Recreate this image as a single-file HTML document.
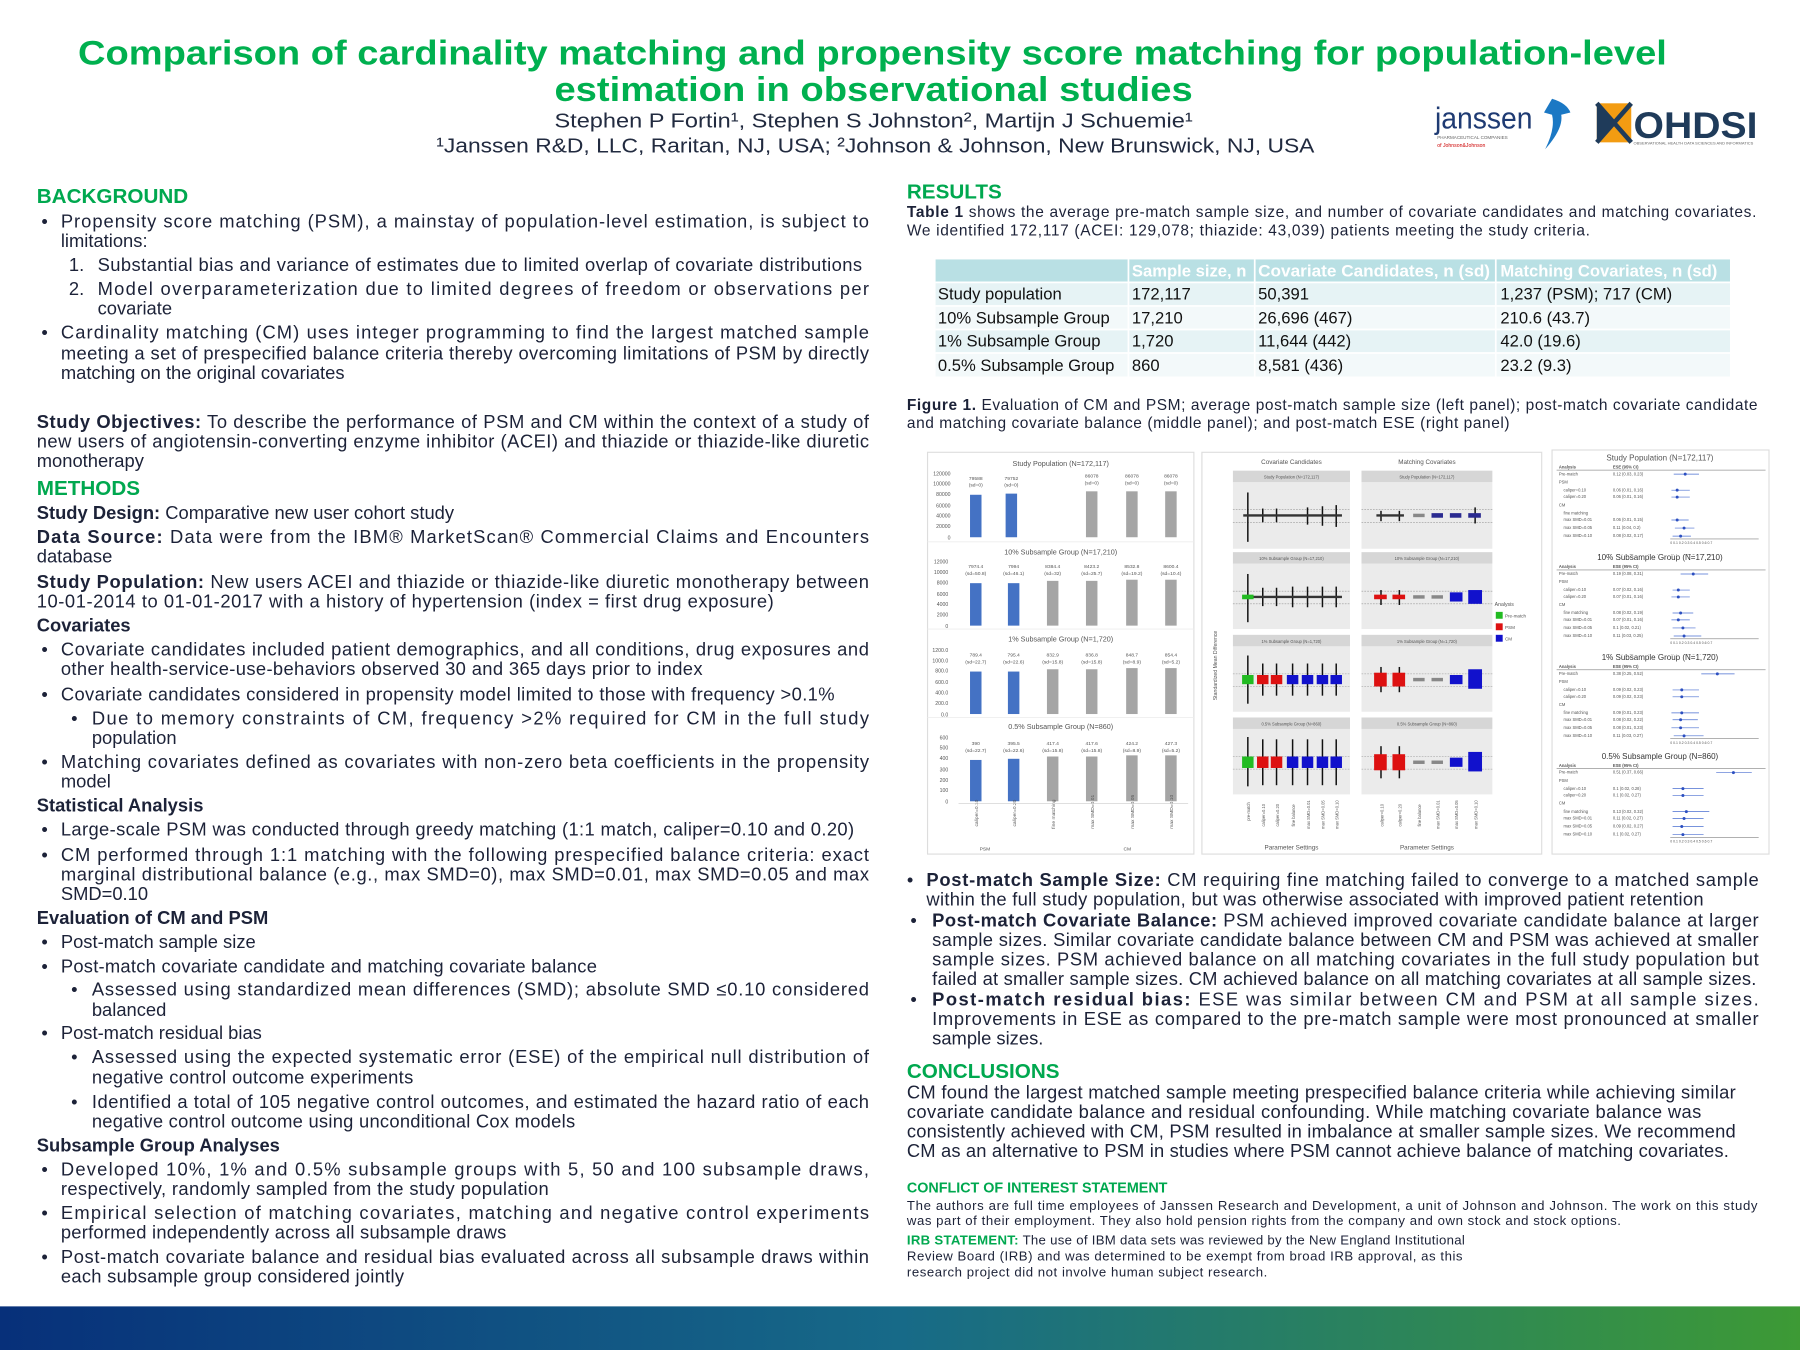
<!DOCTYPE html>
<html><head><meta charset="utf-8"><style>
html,body{margin:0;padding:0;background:#fff;width:1800px;height:1350px;overflow:hidden}
svg{display:block}
.t{font-family:"Liberation Sans",sans-serif;fill:#1c2238;font-size:16px}
.h{font-family:"Liberation Sans",sans-serif;fill:#00a84f;font-weight:bold;font-size:18px}
.s{font-family:"Liberation Sans",sans-serif;fill:#1c2238;font-weight:bold;font-size:16px}
.f{font-family:"Liberation Sans",sans-serif;fill:#555}
.c{font-family:"Liberation Sans",sans-serif;fill:#1c2238;font-size:13.5px}
.k{font-family:"Liberation Sans",sans-serif;fill:#1c2238;font-size:11.5px}
</style></head><body>
<svg width="1800" height="1350" viewBox="0 0 1568 1176" xmlns="http://www.w3.org/2000/svg">
<defs><linearGradient id="g" x1="0" x2="1"><stop offset="0" stop-color="#07307a"/><stop offset="0.5" stop-color="#176a88"/><stop offset="1" stop-color="#3d9a35"/></linearGradient></defs>
<!-- Title -->
<text x="68" y="56" textLength="1384" lengthAdjust="spacingAndGlyphs" font-family="Liberation Sans,sans-serif" font-weight="bold" font-size="30" fill="#00b04f">Comparison of cardinality matching and propensity score matching for population-level</text>
<text x="483" y="88" textLength="556" lengthAdjust="spacingAndGlyphs" font-family="Liberation Sans,sans-serif" font-weight="bold" font-size="30" fill="#00b04f">estimation in observational studies</text>
<text x="483" y="111" textLength="556" lengthAdjust="spacingAndGlyphs" font-family="Liberation Sans,sans-serif" font-size="18" fill="#222b40">Stephen P Fortin¹, Stephen S Johnston², Martijn J Schuemie¹</text>
<text x="380" y="133" textLength="765" lengthAdjust="spacingAndGlyphs" font-family="Liberation Sans,sans-serif" font-size="18" fill="#222b40">¹Janssen R&amp;D, LLC, Raritan, NJ, USA; ²Johnson &amp; Johnson, New Brunswick, NJ, USA</text>
<!-- logos -->
<text x="1250" y="112" font-family="Liberation Sans,sans-serif" font-size="27" fill="#1f3b73" textLength="85" lengthAdjust="spacingAndGlyphs">janssen</text>
<path d="M1352 86 Q1365 90 1368 98 L1360 100 Q1362 112 1346 130 Q1355 112 1352 100 L1345 98 Z" fill="#1b78c4"/>
<text x="1252" y="121" font-family="Liberation Sans,sans-serif" font-size="4" fill="#666">PHARMACEUTICAL COMPANIES</text>
<text x="1252" y="128" font-family="Liberation Sans,sans-serif" font-size="4.5" fill="#c00">of Johnson&amp;Johnson</text>
<rect x="1391" y="90" width="30" height="34" fill="#f39c12"/>
<path d="M1391 90 L1421 124 M1421 90 L1391 124" stroke="#1f3b5a" stroke-width="4"/>
<path d="M1391 90 L1406 107 L1391 124Z" fill="#1f3b5a"/>
<text x="1423" y="120" font-family="Liberation Sans,sans-serif" font-weight="bold" font-size="32" fill="#1f3b5a" textLength="108" lengthAdjust="spacingAndGlyphs">OHDSI</text>
<text x="1423" y="126" font-family="Liberation Sans,sans-serif" font-size="3.5" fill="#666">OBSERVATIONAL HEALTH DATA SCIENCES AND INFORMATICS</text>

<!-- LEFT COLUMN -->
<g>
<text class="h" x="32" y="177">BACKGROUND</text>
<text class="t" x="36" y="198">•</text>
<text class="t" x="53" y="198" textLength="704" lengthAdjust="spacing">Propensity score matching (PSM), a mainstay of population-level estimation, is subject to</text>
<text class="t" x="53" y="215">limitations:</text>
<text class="t" x="60" y="236">1.</text>
<text class="t" x="85" y="236" textLength="666" lengthAdjust="spacing">Substantial bias and variance of estimates  due to limited overlap of covariate distributions</text>
<text class="t" x="60" y="257">2.</text>
<text class="t" x="85" y="257" textLength="672" lengthAdjust="spacing">Model overparameterization due to limited degrees of freedom or observations per</text>
<text class="t" x="85" y="274">covariate</text>
<text class="t" x="36" y="295">•</text>
<text class="t" x="53" y="295" textLength="704" lengthAdjust="spacing">Cardinality matching (CM) uses integer programming to find the largest matched sample</text>
<text class="t" x="53" y="313" textLength="704" lengthAdjust="spacing">meeting a set of prespecified balance criteria thereby overcoming limitations of PSM by directly</text>
<text class="t" x="53" y="330">matching on the original covariates</text>
<text class="t" x="32" y="373" textLength="725" lengthAdjust="spacing"><tspan font-weight="bold">Study Objectives:</tspan> To describe the performance of PSM and CM within the context of a study of</text>
<text class="t" x="32" y="390" textLength="725" lengthAdjust="spacing">new users of angiotensin-converting enzyme inhibitor (ACEI) and thiazide or thiazide-like diuretic</text>
<text class="t" x="32" y="407">monotherapy</text>
<text class="h" x="32" y="431">METHODS</text>
<text class="t" x="32" y="452"><tspan font-weight="bold">Study Design:</tspan> Comparative new user cohort study</text>
<text class="t" x="32" y="473" textLength="725" lengthAdjust="spacing"><tspan font-weight="bold">Data Source:</tspan> Data were from the IBM® MarketScan® Commercial Claims and Encounters</text>
<text class="t" x="32" y="490">database</text>
<text class="t" x="32" y="512" textLength="725" lengthAdjust="spacing"><tspan font-weight="bold">Study Population:</tspan> New users ACEI and thiazide or thiazide-like diuretic monotherapy between</text>
<text class="t" x="32" y="529" textLength="642" lengthAdjust="spacing">10-01-2014 to 01-01-2017 with a history of hypertension (index = first drug exposure)</text>
<text class="s" x="32" y="550">Covariates</text>
<text class="t" x="36" y="571">•</text>
<text class="t" x="53" y="571" textLength="704" lengthAdjust="spacing">Covariate candidates included patient demographics, and all conditions, drug exposures and</text>
<text class="t" x="53" y="588" textLength="559" lengthAdjust="spacing">other health-service-use-behaviors observed 30 and 365 days prior to index</text>
<text class="t" x="36" y="610">•</text>
<text class="t" x="53" y="610" textLength="674" lengthAdjust="spacing">Covariate candidates considered in propensity model limited to those with frequency &gt;0.1%</text>
<text class="t" x="62" y="631">•</text>
<text class="t" x="80" y="631" textLength="677" lengthAdjust="spacing">Due to memory constraints of CM, frequency &gt;2% required for CM in the full study</text>
<text class="t" x="80" y="648">population</text>
<text class="t" x="36" y="669">•</text>
<text class="t" x="53" y="669" textLength="704" lengthAdjust="spacing">Matching covariates defined as covariates with non-zero beta coefficients in the propensity</text>
<text class="t" x="53" y="686">model</text>
<text class="s" x="32" y="707">Statistical Analysis</text>
<text class="t" x="36" y="728">•</text>
<text class="t" x="53" y="728" textLength="691" lengthAdjust="spacing">Large-scale PSM was conducted through greedy matching (1:1 match, caliper=0.10 and 0.20)</text>
<text class="t" x="36" y="750">•</text>
<text class="t" x="53" y="750" textLength="704" lengthAdjust="spacing">CM performed through 1:1 matching with the following prespecified balance criteria: exact</text>
<text class="t" x="53" y="767" textLength="704" lengthAdjust="spacing">marginal distributional balance (e.g., max SMD=0), max SMD=0.01, max SMD=0.05 and max</text>
<text class="t" x="53" y="784">SMD=0.10</text>
<text class="s" x="32" y="805">Evaluation of CM and PSM</text>
<text class="t" x="36" y="826">•</text>
<text class="t" x="53" y="826">Post-match sample size</text>
<text class="t" x="36" y="847">•</text>
<text class="t" x="53" y="847" textLength="467" lengthAdjust="spacing">Post-match covariate candidate and matching covariate balance</text>
<text class="t" x="62" y="867">•</text>
<text class="t" x="80" y="867" textLength="677" lengthAdjust="spacing">Assessed using standardized mean differences (SMD); absolute SMD ≤0.10 considered</text>
<text class="t" x="80" y="885">balanced</text>
<text class="t" x="36" y="905">•</text>
<text class="t" x="53" y="905">Post-match residual bias</text>
<text class="t" x="62" y="926">•</text>
<text class="t" x="80" y="926" textLength="677" lengthAdjust="spacing">Assessed using the expected systematic error (ESE) of the empirical null distribution of</text>
<text class="t" x="80" y="944" textLength="280" lengthAdjust="spacing">negative control outcome experiments</text>
<text class="t" x="62" y="965">•</text>
<text class="t" x="80" y="965" textLength="677" lengthAdjust="spacing">Identified a total of 105 negative control outcomes, and estimated the hazard ratio of each</text>
<text class="t" x="80" y="982" textLength="421" lengthAdjust="spacing">negative control outcome using unconditional Cox models</text>
<text class="s" x="32" y="1003">Subsample Group Analyses</text>
<text class="t" x="36" y="1024">•</text>
<text class="t" x="53" y="1024" textLength="704" lengthAdjust="spacing">Developed 10%, 1% and 0.5% subsample groups with 5, 50 and 100 subsample draws,</text>
<text class="t" x="53" y="1041" textLength="425" lengthAdjust="spacing">respectively, randomly sampled from the study population</text>
<text class="t" x="36" y="1062">•</text>
<text class="t" x="53" y="1062" textLength="704" lengthAdjust="spacing">Empirical selection of matching covariates, matching and negative control experiments</text>
<text class="t" x="53" y="1079" textLength="388" lengthAdjust="spacing">performed independently across all subsample draws</text>
<text class="t" x="36" y="1100">•</text>
<text class="t" x="53" y="1100" textLength="704" lengthAdjust="spacing">Post-match covariate balance and residual bias evaluated across all subsample draws within</text>
<text class="t" x="53" y="1117" textLength="299" lengthAdjust="spacing">each subsample group considered jointly</text>
</g>

<!-- RIGHT COLUMN -->
<g>
<text class="h" x="790" y="173">RESULTS</text>
<text class="c" x="790" y="189" textLength="740" lengthAdjust="spacing"><tspan font-weight="bold">Table 1</tspan> shows the average pre-match sample size, and number of covariate candidates and matching covariates.</text>
<text class="c" x="790" y="205" textLength="595" lengthAdjust="spacing">We identified 172,117 (ACEI: 129,078; thiazide: 43,039) patients meeting the study criteria.</text>
<rect x="815" y="226" width="692" height="20" fill="#b9e0e4"/>
<rect x="815" y="246" width="692" height="20.5" fill="#e6f3f5"/>
<rect x="815" y="266.5" width="692" height="20.5" fill="#f3f9fa"/>
<rect x="815" y="287" width="692" height="20.5" fill="#e6f3f5"/>
<rect x="815" y="307.5" width="692" height="20.5" fill="#f3f9fa"/>
<g stroke="#fff" stroke-width="1.5"><line x1="983" y1="226" x2="983" y2="328"/><line x1="1093" y1="226" x2="1093" y2="328"/><line x1="1303" y1="226" x2="1303" y2="328"/><line x1="815" y1="246" x2="1507" y2="246"/><line x1="815" y1="266.5" x2="1507" y2="266.5"/><line x1="815" y1="287" x2="1507" y2="287"/><line x1="815" y1="307.5" x2="1507" y2="307.5"/></g>
<g font-family="Liberation Sans,sans-serif" font-size="14.5" fill="#fff" font-weight="bold">
<text x="986" y="241">Sample size, n</text><text x="1096" y="241" textLength="202" lengthAdjust="spacingAndGlyphs">Covariate Candidates, n (sd)</text><text x="1307" y="241" textLength="189" lengthAdjust="spacingAndGlyphs">Matching Covariates, n (sd)</text></g>
<g font-family="Liberation Sans,sans-serif" font-size="14.5" fill="#111">
<text x="817" y="261">Study population</text><text x="986" y="261">172,117</text><text x="1096" y="261">50,391</text><text x="1307" y="261">1,237 (PSM); 717 (CM)</text>
<text x="817" y="282">10% Subsample Group</text><text x="986" y="282">17,210</text><text x="1096" y="282">26,696 (467)</text><text x="1307" y="282">210.6 (43.7)</text>
<text x="817" y="302">1% Subsample Group</text><text x="986" y="302">1,720</text><text x="1096" y="302">11,644 (442)</text><text x="1307" y="302">42.0 (19.6)</text>
<text x="817" y="323">0.5% Subsample Group</text><text x="986" y="323">860</text><text x="1096" y="323">8,581 (436)</text><text x="1307" y="323">23.2 (9.3)</text></g>
<text class="c" x="790" y="357" textLength="741" lengthAdjust="spacing"><tspan font-weight="bold">Figure 1.</tspan> Evaluation of CM and PSM; average post-match sample size (left panel); post-match covariate candidate</text>
<text class="c" x="790" y="373" textLength="525" lengthAdjust="spacing">and matching covariate balance (middle panel); and post-match ESE (right panel)</text>

<!-- FIGURE: left panel -->
<rect x="808" y="394" width="232" height="350" fill="#fff" stroke="#ddd"/>
<g class="f" font-size="6.3" text-anchor="middle">
<text x="924" y="406">Study Population (N=172,117)</text>
<text x="924" y="483">10% Subsample Group (N=17,210)</text>
<text x="924" y="559">1% Subsample Group (N=1,720)</text>
<text x="924" y="635">0.5% Subsample Group (N=860)</text>
</g>
<g stroke="#eee" stroke-width="0.8"><line x1="808" y1="472" x2="1040" y2="472"/><line x1="808" y1="548" x2="1040" y2="548"/><line x1="808" y1="625" x2="1040" y2="625"/></g>
<g class="f" font-size="4.5" text-anchor="end">
<text x="828" y="414">120000</text><text x="828" y="423">100000</text><text x="828" y="432">80000</text><text x="828" y="442">60000</text><text x="828" y="451">40000</text><text x="828" y="460">20000</text><text x="828" y="470">0</text>
<text x="826" y="491">12000</text><text x="826" y="500">10000</text><text x="826" y="509">8000</text><text x="826" y="519">6000</text><text x="826" y="528">4000</text><text x="826" y="537">2000</text><text x="826" y="547">0</text>
<text x="826" y="568">1200.0</text><text x="826" y="577">1000.0</text><text x="826" y="586">800.0</text><text x="826" y="596">600.0</text><text x="826" y="605">400.0</text><text x="826" y="614">200.0</text><text x="826" y="624">0.0</text>
<text x="826" y="644">600</text><text x="826" y="653">500</text><text x="826" y="662">400</text><text x="826" y="672">300</text><text x="826" y="681">200</text><text x="826" y="690">100</text><text x="826" y="700">0</text>
</g>
<g fill="#4472c4">
<rect x="845" y="431" width="10" height="37"/><rect x="876" y="430" width="10" height="38"/>
<rect x="845" y="508" width="10" height="37"/><rect x="878" y="508" width="10" height="37"/>
<rect x="845" y="585" width="10" height="37"/><rect x="878" y="585" width="10" height="37"/>
<rect x="845" y="662" width="10" height="36"/><rect x="878" y="661" width="10" height="37"/>
</g>
<g fill="#a5a5a5">
<rect x="946" y="428" width="10" height="40"/><rect x="981" y="428" width="10" height="40"/><rect x="1015" y="428" width="10" height="40"/>
<rect x="912" y="506" width="10" height="39"/><rect x="946" y="506" width="10" height="39"/><rect x="981" y="505" width="10" height="40"/><rect x="1015" y="505" width="10" height="40"/>
<rect x="912" y="583" width="10" height="39"/><rect x="946" y="583" width="10" height="39"/><rect x="981" y="582" width="10" height="40"/><rect x="1015" y="582" width="10" height="40"/>
<rect x="912" y="659" width="10" height="39"/><rect x="946" y="659" width="10" height="39"/><rect x="981" y="658" width="10" height="40"/><rect x="1015" y="658" width="10" height="40"/>
</g>
<g class="f" font-size="4.3" text-anchor="middle">
<text x="850" y="418">79588</text><text x="850" y="424">(sd=0)</text><text x="881" y="418">79752</text><text x="881" y="424">(sd=0)</text>
<text x="951" y="416">86078</text><text x="951" y="422">(sd=0)</text><text x="986" y="416">86078</text><text x="986" y="422">(sd=0)</text><text x="1020" y="416">86078</text><text x="1020" y="422">(sd=0)</text>
<text x="850" y="495">7974.4</text><text x="850" y="501">(sd=50.8)</text><text x="883" y="495">7994</text><text x="883" y="501">(sd=46.1)</text><text x="917" y="495">8384.4</text><text x="917" y="501">(sd=32)</text><text x="951" y="495">8423.2</text><text x="951" y="501">(sd=25.7)</text><text x="986" y="495">8532.8</text><text x="986" y="501">(sd=19.2)</text><text x="1020" y="495">8600.4</text><text x="1020" y="501">(sd=10.4)</text>
<text x="850" y="572">789.4</text><text x="850" y="578">(sd=22.7)</text><text x="883" y="572">795.4</text><text x="883" y="578">(sd=22.6)</text><text x="917" y="572">832.9</text><text x="917" y="578">(sd=15.8)</text><text x="951" y="572">836.8</text><text x="951" y="578">(sd=15.8)</text><text x="986" y="572">848.7</text><text x="986" y="578">(sd=8.9)</text><text x="1020" y="572">854.4</text><text x="1020" y="578">(sd=5.2)</text>
<text x="850" y="649">390</text><text x="850" y="655">(sd=22.7)</text><text x="883" y="649">395.5</text><text x="883" y="655">(sd=22.6)</text><text x="917" y="649">417.4</text><text x="917" y="655">(sd=15.8)</text><text x="951" y="649">417.6</text><text x="951" y="655">(sd=15.8)</text><text x="986" y="649">424.2</text><text x="986" y="655">(sd=8.9)</text><text x="1020" y="649">427.3</text><text x="1020" y="655">(sd=5.2)</text>
<text x="858" y="741">PSM</text><text x="982" y="741">CM</text>
</g>
<g class="f" font-size="4.3">
<text transform="translate(852,720) rotate(-90)">caliper=0.10</text><text transform="translate(885,720) rotate(-90)">caliper=0.20</text><text transform="translate(919,722) rotate(-90)">fine matching</text><text transform="translate(953,722) rotate(-90)">max SMD=0.01</text><text transform="translate(988,722) rotate(-90)">max SMD=0.05</text><text transform="translate(1022,722) rotate(-90)">max SMD=0.10</text>
</g>
<line x1="835" y1="700" x2="1035" y2="700" stroke="#ccc" stroke-width="0.6"/>

<!-- FIGURE: middle panel -->
<rect x="1047" y="394" width="296" height="350" fill="#fff" stroke="#ddd"/>
<g class="f" font-size="5.5" text-anchor="middle" fill="#333"><text x="1125" y="404">Covariate Candidates</text><text x="1243" y="404">Matching Covariates</text>
<text x="1125" y="740">Parameter Settings</text><text x="1243" y="740">Parameter Settings</text></g>
<text class="f" font-size="4.5" transform="translate(1060,610) rotate(-90)">Standardized Mean Difference</text>
<g fill="#ebebeb">
<rect x="1074" y="420" width="102" height="58"/><rect x="1186" y="420" width="114" height="58"/>
<rect x="1074" y="491" width="102" height="57"/><rect x="1186" y="491" width="114" height="57"/>
<rect x="1074" y="563" width="102" height="57"/><rect x="1186" y="563" width="114" height="57"/>
<rect x="1074" y="635" width="102" height="57"/><rect x="1186" y="635" width="114" height="57"/>
</g>
<g fill="#d6d6d6">
<rect x="1074" y="410" width="102" height="10"/><rect x="1186" y="410" width="114" height="10"/>
<rect x="1074" y="481" width="102" height="10"/><rect x="1186" y="481" width="114" height="10"/>
<rect x="1074" y="553" width="102" height="10"/><rect x="1186" y="553" width="114" height="10"/>
<rect x="1074" y="625" width="102" height="10"/><rect x="1186" y="625" width="114" height="10"/>
</g>
<g class="f" font-size="3.6" text-anchor="middle" fill="#444">
<text x="1125" y="417">Study Population (N=172,117)</text><text x="1243" y="417">Study Population (N=172,117)</text>
<text x="1125" y="488">10% Subsample Group (N=17,210)</text><text x="1243" y="488">10% Subsample Group (N=17,210)</text>
<text x="1125" y="560">1% Subsample Group (N=1,720)</text><text x="1243" y="560">1% Subsample Group (N=1,720)</text>
<text x="1125" y="632">0.5% Subsample Group (N=860)</text><text x="1243" y="632">0.5% Subsample Group (N=860)</text>
</g>
<g stroke="#999" stroke-width="0.5" stroke-dasharray="1.5,1">
<line x1="1074" y1="444" x2="1176" y2="444"/><line x1="1074" y1="455" x2="1176" y2="455"/><line x1="1186" y1="444" x2="1300" y2="444"/><line x1="1186" y1="455" x2="1300" y2="455"/>
<line x1="1074" y1="515" x2="1176" y2="515"/><line x1="1074" y1="526" x2="1176" y2="526"/><line x1="1186" y1="515" x2="1300" y2="515"/><line x1="1186" y1="526" x2="1300" y2="526"/>
<line x1="1074" y1="587" x2="1176" y2="587"/><line x1="1074" y1="598" x2="1176" y2="598"/><line x1="1186" y1="587" x2="1300" y2="587"/><line x1="1186" y1="598" x2="1300" y2="598"/>
<line x1="1074" y1="659" x2="1176" y2="659"/><line x1="1074" y1="670" x2="1176" y2="670"/><line x1="1186" y1="659" x2="1300" y2="659"/><line x1="1186" y1="670" x2="1300" y2="670"/>
</g>
<g stroke="#111" stroke-width="1.3">
<line x1="1087" y1="429" x2="1087" y2="472"/><line x1="1100" y1="443" x2="1100" y2="455"/><line x1="1112" y1="443" x2="1112" y2="455"/><line x1="1139" y1="442" x2="1139" y2="457"/><line x1="1152" y1="441" x2="1152" y2="458"/><line x1="1164" y1="440" x2="1164" y2="459"/>
<line x1="1203" y1="445" x2="1203" y2="454"/><line x1="1219" y1="445" x2="1219" y2="454"/><line x1="1285" y1="442" x2="1285" y2="456"/>
<line x1="1087" y1="500" x2="1087" y2="542"/><line x1="1100" y1="512" x2="1100" y2="528"/><line x1="1112" y1="512" x2="1112" y2="528"/><line x1="1126" y1="511" x2="1126" y2="529"/><line x1="1139" y1="511" x2="1139" y2="529"/><line x1="1152" y1="511" x2="1152" y2="529"/><line x1="1164" y1="511" x2="1164" y2="529"/>
<line x1="1203" y1="514" x2="1203" y2="527"/><line x1="1219" y1="514" x2="1219" y2="527"/>
<line x1="1087" y1="571" x2="1087" y2="613"/><line x1="1100" y1="578" x2="1100" y2="606"/><line x1="1112" y1="578" x2="1112" y2="606"/><line x1="1126" y1="578" x2="1126" y2="606"/><line x1="1139" y1="578" x2="1139" y2="606"/><line x1="1152" y1="578" x2="1152" y2="606"/><line x1="1164" y1="578" x2="1164" y2="606"/>
<line x1="1203" y1="581" x2="1203" y2="603"/><line x1="1219" y1="581" x2="1219" y2="603"/>
<line x1="1087" y1="642" x2="1087" y2="685"/><line x1="1100" y1="644" x2="1100" y2="684"/><line x1="1112" y1="644" x2="1112" y2="684"/><line x1="1126" y1="644" x2="1126" y2="684"/><line x1="1139" y1="644" x2="1139" y2="684"/><line x1="1152" y1="644" x2="1152" y2="684"/><line x1="1164" y1="644" x2="1164" y2="684"/>
<line x1="1203" y1="650" x2="1203" y2="678"/><line x1="1219" y1="650" x2="1219" y2="678"/>
</g>
<g stroke="#333" stroke-width="2"><line x1="1083" y1="449" x2="1169" y2="449"/><line x1="1199" y1="449" x2="1223" y2="449"/><line x1="1083" y1="520" x2="1169" y2="520"/></g>
<g fill="#888"><rect x="1231" y="447.5" width="10" height="3"/><rect x="1231" y="518.5" width="10" height="3"/><rect x="1247" y="518.5" width="10" height="3"/><rect x="1231" y="590.5" width="10" height="3"/><rect x="1247" y="590.5" width="10" height="3"/><rect x="1231" y="662.5" width="10" height="3"/><rect x="1247" y="662.5" width="10" height="3"/></g>
<g fill="#2a2a90"><rect x="1247" y="447" width="10" height="4"/><rect x="1263" y="447" width="10" height="4"/><rect x="1279" y="447" width="11" height="4"/></g>
<g fill="#22bb22"><rect x="1082" y="518" width="10" height="4"/><rect x="1082" y="588" width="10" height="8"/><rect x="1082" y="659" width="10" height="10"/></g>
<g fill="#dd1111">
<rect x="1197" y="518" width="11" height="4"/><rect x="1213" y="518" width="11" height="4"/>
<rect x="1095" y="588" width="10" height="8"/><rect x="1107" y="588" width="10" height="8"/><rect x="1197" y="586" width="11" height="12"/><rect x="1213" y="586" width="11" height="12"/>
<rect x="1095" y="659" width="10" height="10"/><rect x="1107" y="659" width="10" height="10"/><rect x="1197" y="657" width="11" height="14"/><rect x="1213" y="657" width="11" height="14"/>
</g>
<g fill="#1111cc">
<rect x="1263" y="516" width="11" height="8"/><rect x="1279" y="514" width="12" height="12"/>
<rect x="1121" y="588" width="10" height="8"/><rect x="1134" y="588" width="10" height="8"/><rect x="1147" y="588" width="10" height="8"/><rect x="1159" y="588" width="10" height="8"/><rect x="1263" y="588" width="11" height="8"/><rect x="1279" y="583" width="12" height="17"/>
<rect x="1121" y="659" width="10" height="10"/><rect x="1134" y="659" width="10" height="10"/><rect x="1147" y="659" width="10" height="10"/><rect x="1159" y="659" width="10" height="10"/><rect x="1263" y="660" width="11" height="8"/><rect x="1279" y="655" width="12" height="17"/>
</g>
<text class="f" font-size="4.5" x="1302" y="528" fill="#333">Analysis</text>
<rect x="1303" y="533" width="6" height="6" fill="#22bb22"/><text class="f" font-size="4" x="1311" y="538">Pre-match</text>
<rect x="1303" y="543" width="6" height="6" fill="#dd1111"/><text class="f" font-size="4" x="1311" y="548">PSM</text>
<rect x="1303" y="553" width="6" height="6" fill="#1111cc"/><text class="f" font-size="4" x="1311" y="558">CM</text>
<g class="f" font-size="3.6">
<text transform="translate(1089,715) rotate(-90)">pre-match</text><text transform="translate(1102,720) rotate(-90)">caliper=0.10</text><text transform="translate(1114,720) rotate(-90)">caliper=0.20</text><text transform="translate(1128,720) rotate(-90)">fine balance</text><text transform="translate(1141,722) rotate(-90)">max SMD=0.01</text><text transform="translate(1154,722) rotate(-90)">max SMD=0.05</text><text transform="translate(1166,722) rotate(-90)">max SMD=0.10</text>
<text transform="translate(1205,720) rotate(-90)">caliper=0.10</text><text transform="translate(1221,720) rotate(-90)">caliper=0.20</text><text transform="translate(1238,720) rotate(-90)">fine balance</text><text transform="translate(1254,722) rotate(-90)">max SMD=0.01</text><text transform="translate(1270,722) rotate(-90)">max SMD=0.05</text><text transform="translate(1287,722) rotate(-90)">max SMD=0.10</text>
</g>

<!-- FIGURE: right panel -->
<rect x="1352" y="392" width="189" height="352" fill="#fff" stroke="#ddd"/>
<g id="fp">
<text class="f" font-size="7" x="1446" y="401" text-anchor="middle" fill="#333">Study Population (N=172,117)</text>
<g class="f" font-size="3.6" fill="#333">
<text x="1358" y="408" font-weight="bold">Analysis</text><text x="1405" y="408" font-weight="bold">ESE (95% CI)</text>
<text x="1358" y="414">Pre-match</text><text x="1358" y="421">PSM</text><text x="1362" y="428">caliper=0.10</text><text x="1362" y="434">caliper=0.20</text><text x="1358" y="441">CM</text><text x="1362" y="448">fine matching</text><text x="1362" y="454">max SMD=0.01</text><text x="1362" y="461">max SMD=0.05</text><text x="1362" y="468">max SMD=0.10</text>
</g>
<line x1="1356" y1="409.5" x2="1538" y2="409.5" stroke="#555" stroke-width="0.4"/>
<line x1="1455" y1="469.5" x2="1532" y2="469.5" stroke="#555" stroke-width="0.4"/>
<text class="f" font-size="3" x="1455" y="474">0   0.1   0.2   0.3   0.4   0.5   0.6   0.7</text>
</g>
<g class="f" font-size="3.6" fill="#333">
<text x="1405" y="414">0.12 (0.03, 0.23)</text><text x="1405" y="428">0.06 (0.01, 0.16)</text><text x="1405" y="434">0.06 (0.01, 0.16)</text><text x="1405" y="454">0.06 (0.01, 0.15)</text><text x="1405" y="461">0.11 (0.04, 0.2)</text><text x="1405" y="468">0.08 (0.02, 0.17)</text>
</g>
<use href="#fp" transform="translate(0,87)"/><use href="#fp" transform="translate(0,174)"/><use href="#fp" transform="translate(0,260)"/>
<rect x="1360" y="483" width="175" height="9" fill="#fff"/><rect x="1360" y="570" width="175" height="9" fill="#fff"/><rect x="1360" y="656" width="175" height="9" fill="#fff"/>
<g font-family="Liberation Sans,sans-serif" font-size="7" text-anchor="middle" fill="#333">
<text x="1446" y="488">10% Subsample Group (N=17,210)</text><text x="1446" y="575">1% Subsample Group (N=1,720)</text><text x="1446" y="661">0.5% Subsample Group (N=860)</text></g>
<g class="f" font-size="3.6" fill="#333">
<text x="1405" y="501">0.19 (0.08, 0.31)</text><text x="1405" y="515">0.07 (0.02, 0.16)</text><text x="1405" y="521">0.07 (0.01, 0.16)</text><text x="1405" y="535">0.08 (0.02, 0.19)</text><text x="1405" y="541">0.07 (0.01, 0.16)</text><text x="1405" y="548">0.1 (0.02, 0.21)</text><text x="1405" y="555">0.11 (0.03, 0.25)</text>
<text x="1405" y="588">0.38 (0.25, 0.52)</text><text x="1405" y="602">0.09 (0.02, 0.23)</text><text x="1405" y="608">0.09 (0.02, 0.23)</text><text x="1405" y="622">0.09 (0.01, 0.23)</text><text x="1405" y="628">0.08 (0.02, 0.22)</text><text x="1405" y="635">0.08 (0.01, 0.23)</text><text x="1405" y="642">0.11 (0.03, 0.27)</text>
<text x="1405" y="674">0.51 (0.37, 0.66)</text><text x="1405" y="688">0.1 (0.02, 0.28)</text><text x="1405" y="694">0.1 (0.02, 0.27)</text><text x="1405" y="708">0.13 (0.02, 0.32)</text><text x="1405" y="714">0.11 (0.02, 0.27)</text><text x="1405" y="721">0.09 (0.02, 0.27)</text><text x="1405" y="728">0.1 (0.02, 0.27)</text>
</g>
<g stroke="#4a6fd0" stroke-width="0.6">
<line x1="1458" y1="413" x2="1480" y2="413"/><line x1="1456" y1="427" x2="1472" y2="427"/><line x1="1456" y1="433" x2="1472" y2="433"/><line x1="1456" y1="453" x2="1471" y2="453"/><line x1="1459" y1="460" x2="1476" y2="460"/><line x1="1457" y1="467" x2="1473" y2="467"/>
<line x1="1464" y1="500" x2="1488" y2="500"/><line x1="1457" y1="514" x2="1472" y2="514"/><line x1="1456" y1="520" x2="1472" y2="520"/><line x1="1457" y1="534" x2="1475" y2="534"/><line x1="1456" y1="540" x2="1472" y2="540"/><line x1="1457" y1="547" x2="1477" y2="547"/><line x1="1458" y1="554" x2="1482" y2="554"/>
<line x1="1482" y1="587" x2="1511" y2="587"/><line x1="1457" y1="601" x2="1480" y2="601"/><line x1="1457" y1="607" x2="1480" y2="607"/><line x1="1456" y1="621" x2="1480" y2="621"/><line x1="1457" y1="627" x2="1479" y2="627"/><line x1="1456" y1="634" x2="1480" y2="634"/><line x1="1458" y1="641" x2="1484" y2="641"/>
<line x1="1495" y1="673" x2="1526" y2="673"/><line x1="1457" y1="687" x2="1484" y2="687"/><line x1="1457" y1="693" x2="1484" y2="693"/><line x1="1457" y1="707" x2="1489" y2="707"/><line x1="1457" y1="713" x2="1484" y2="713"/><line x1="1457" y1="720" x2="1484" y2="720"/><line x1="1457" y1="727" x2="1484" y2="727"/>
</g>
<g fill="#2c4fc0">
<circle cx="1468" cy="413" r="1.3"/><circle cx="1461" cy="427" r="1.3"/><circle cx="1461" cy="433" r="1.3"/><circle cx="1461" cy="453" r="1.3"/><circle cx="1467" cy="460" r="1.3"/><circle cx="1464" cy="467" r="1.3"/>
<circle cx="1475" cy="500" r="1.3"/><circle cx="1462" cy="514" r="1.3"/><circle cx="1462" cy="520" r="1.3"/><circle cx="1464" cy="534" r="1.3"/><circle cx="1462" cy="540" r="1.3"/><circle cx="1466" cy="547" r="1.3"/><circle cx="1467" cy="554" r="1.3"/>
<circle cx="1496" cy="587" r="1.3"/><circle cx="1465" cy="601" r="1.3"/><circle cx="1465" cy="607" r="1.3"/><circle cx="1465" cy="621" r="1.3"/><circle cx="1464" cy="627" r="1.3"/><circle cx="1464" cy="634" r="1.3"/><circle cx="1467" cy="641" r="1.3"/>
<circle cx="1510" cy="673" r="1.3"/><circle cx="1466" cy="687" r="1.3"/><circle cx="1466" cy="693" r="1.3"/><circle cx="1469" cy="707" r="1.3"/><circle cx="1467" cy="713" r="1.3"/><circle cx="1465" cy="720" r="1.3"/><circle cx="1466" cy="727" r="1.3"/>
</g>

<!-- result bullets -->
<text class="t" x="790" y="772">•</text>
<text class="t" x="807" y="772" textLength="725" lengthAdjust="spacing"><tspan font-weight="bold">Post-match Sample Size:</tspan> CM requiring fine matching failed to converge to a matched sample</text>
<text class="t" x="807" y="789" textLength="677" lengthAdjust="spacing">within the full study population, but was otherwise associated with improved patient retention</text>
<text class="t" x="793" y="807">•</text>
<text class="t" x="812" y="807" textLength="720" lengthAdjust="spacing"><tspan font-weight="bold">Post-match Covariate Balance:</tspan> PSM achieved improved covariate candidate balance at larger</text>
<text class="t" x="812" y="824" textLength="720" lengthAdjust="spacing">sample sizes. Similar covariate candidate balance between CM and PSM was achieved at smaller</text>
<text class="t" x="812" y="841" textLength="720" lengthAdjust="spacing">sample sizes. PSM achieved balance on all matching covariates in the full study population but</text>
<text class="t" x="812" y="858" textLength="718" lengthAdjust="spacing">failed at smaller sample sizes. CM achieved balance on all matching covariates at all sample sizes.</text>
<text class="t" x="793" y="876">•</text>
<text class="t" x="812" y="876" textLength="720" lengthAdjust="spacing"><tspan font-weight="bold">Post-match residual bias:</tspan> ESE was similar between CM and PSM at all sample sizes.</text>
<text class="t" x="812" y="893" textLength="720" lengthAdjust="spacing">Improvements in ESE as compared to the pre-match sample were most pronounced at smaller</text>
<text class="t" x="812" y="910">sample sizes.</text>
<text class="h" x="790" y="939">CONCLUSIONS</text>
<text class="t" x="790" y="957" textLength="722" lengthAdjust="spacing">CM found the largest matched sample meeting prespecified balance criteria while achieving similar</text>
<text class="t" x="790" y="974" textLength="692" lengthAdjust="spacing">covariate candidate balance and residual confounding. While matching covariate balance was</text>
<text class="t" x="790" y="991" textLength="722" lengthAdjust="spacing">consistently achieved with CM, PSM resulted in imbalance at smaller sample sizes. We recommend</text>
<text class="t" x="790" y="1008" textLength="716" lengthAdjust="spacing">CM as an alternative to PSM in studies where PSM cannot achieve balance of matching covariates.</text>
<text x="790" y="1039" font-family="Liberation Sans,sans-serif" font-weight="bold" font-size="12.5" fill="#00a84f">CONFLICT OF INTEREST STATEMENT</text>
<text class="k" x="790" y="1054" textLength="741" lengthAdjust="spacing">The authors are full time employees of Janssen Research and Development, a unit of Johnson and Johnson. The work on this study</text>
<text class="k" x="790" y="1067" textLength="622" lengthAdjust="spacing">was part of their employment. They also hold pension rights from the company and own stock and stock options.</text>
<text class="k" x="790" y="1084" textLength="486" lengthAdjust="spacing"><tspan font-weight="bold" fill="#00a84f">IRB STATEMENT:</tspan> The use of IBM data sets was reviewed by the New England Institutional</text>
<text class="k" x="790" y="1098" textLength="484" lengthAdjust="spacing">Review Board (IRB) and was determined to be exempt from broad IRB approval, as this</text>
<text class="k" x="790" y="1112" textLength="314" lengthAdjust="spacing">research project did not involve human subject research.</text>
</g>
<rect x="0" y="1138" width="1568" height="38" fill="url(#g)"/>
</svg>
</body></html>
